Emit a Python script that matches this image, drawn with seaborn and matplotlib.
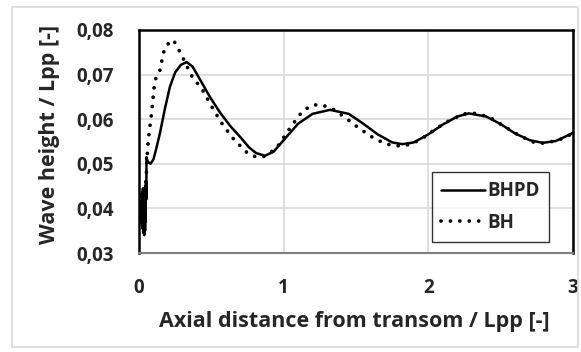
import matplotlib
matplotlib.use("Agg")
import matplotlib.pyplot as plt
import seaborn as sns
import pandas as pd
from matplotlib.patches import Rectangle

# ---- data ----
bhpd_x = [0.015, 0.018, 0.021, 0.024, 0.027, 0.030, 0.033, 0.036, 0.039, 0.042,
          0.044, 0.046, 0.048, 0.050, 0.052, 0.060, 0.080, 0.100, 0.120,
          0.145, 0.180, 0.214, 0.250, 0.290, 0.330, 0.370, 0.420, 0.490, 0.560,
          0.630, 0.700, 0.760, 0.810, 0.870, 0.930, 1.000, 1.100, 1.200, 1.320,
          1.450, 1.550, 1.650, 1.750, 1.820, 1.900, 2.000, 2.100, 2.200, 2.280,
          2.400, 2.500, 2.600, 2.700, 2.790, 2.880, 2.980, 3.000]
bhpd_y = [0.0400, 0.0370, 0.0435, 0.0355, 0.0445, 0.0345, 0.0440, 0.0340, 0.0445, 0.0350,
          0.0450, 0.0370, 0.0460, 0.0420, 0.0515, 0.0505, 0.0500, 0.0510, 0.0535,
          0.0569, 0.0625, 0.0673, 0.0705, 0.0722, 0.0728, 0.0718, 0.0690, 0.0650, 0.0615,
          0.0585, 0.0560, 0.0537, 0.0524, 0.0518, 0.0527, 0.0553, 0.0590, 0.0612, 0.0621,
          0.0612, 0.0590, 0.0566, 0.0548, 0.0544, 0.0548, 0.0566, 0.0588, 0.0606, 0.0613,
          0.0606, 0.0589, 0.0568, 0.0553, 0.0547, 0.0551, 0.0566, 0.0570]

bh_x = [0.000, 0.005, 0.010, 0.015, 0.020, 0.025, 0.030, 0.035, 0.040, 0.045,
        0.050, 0.055, 0.064, 0.087, 0.106, 0.120, 0.145, 0.168, 0.190, 0.237,
        0.270, 0.300, 0.360, 0.440, 0.510, 0.580, 0.660, 0.750, 0.810, 0.870,
        0.950, 1.050, 1.130, 1.200, 1.260, 1.330, 1.420, 1.500, 1.600, 1.700,
        1.780, 1.870, 1.950, 2.050, 2.150, 2.250, 2.320, 2.420, 2.520, 2.620,
        2.720, 2.800, 2.900, 3.000]
bh_y = [0.0395, 0.0420, 0.0375, 0.0440, 0.0365, 0.0430, 0.0380, 0.0440, 0.0400, 0.0450,
        0.0470, 0.0510, 0.0553, 0.0614, 0.0677, 0.0697, 0.0710, 0.0748, 0.0766, 0.0778,
        0.0759, 0.0740, 0.0699, 0.0665, 0.0624, 0.0587, 0.0553, 0.0524, 0.0515, 0.0517,
        0.0535, 0.0583, 0.0618, 0.0632, 0.0632, 0.0625, 0.0605, 0.0585, 0.0562, 0.0545,
        0.0540, 0.0543, 0.0555, 0.0578, 0.0598, 0.0612, 0.0613, 0.0605, 0.0585, 0.0565,
        0.0549, 0.0546, 0.0553, 0.0568]

series_names = ["BHPD", "BH"]
x_ticks = [0, 1, 2, 3]
x_tick_labels = ["0", "1", "2", "3"]
y_ticks = [0.03, 0.04, 0.05, 0.06, 0.07, 0.08]
y_tick_labels = ["0,03", "0,04", "0,05", "0,06", "0,07", "0,08"]
x_label = "Axial distance from transom / Lpp [-]"
y_label = "Wave height / Lpp [-]"

df_bhpd = pd.DataFrame({"x": bhpd_x, "y": bhpd_y})
df_bh = pd.DataFrame({"x": bh_x, "y": bh_y})

sns.set_theme(style="white")
plt.rcParams["font.family"] = ["Open Sans", "DejaVu Sans"]

W, H = 581, 352
fig = plt.figure(figsize=(W / 100, H / 100), dpi=100)
ax = fig.add_axes([139 / W, 1 - 253 / H, (573 - 139) / W, (253 - 30) / H])

# outer chart frame
fig.patches.append(Rectangle((12 / W, 1 - 347 / H), (578 - 12) / W, (347 - 7) / H,
                             transform=fig.transFigure, fill=False,
                             edgecolor="#d9d9d9", linewidth=1.2))

sns.lineplot(data=df_bhpd, x="x", y="y", ax=ax, sort=False, estimator=None,
             color="black", linewidth=1.8, label=series_names[0])
sns.lineplot(data=df_bh, x="x", y="y", ax=ax, sort=False, estimator=None,
             color="black", linewidth=2.7, label=series_names[1],
             linestyle=(0, (0.01, 2.5)), dash_capstyle="round")

ax.set_xlim(0, 3)
ax.set_ylim(0.03, 0.08)
ax.set_xticks(x_ticks)
ax.set_xticklabels(x_tick_labels)
ax.set_yticks(y_ticks)
ax.set_yticklabels(y_tick_labels)
ax.tick_params(axis="both", length=0, labelsize=13.5)
ax.tick_params(axis="x", pad=18)
ax.tick_params(axis="y", pad=18)
for lab in ax.get_xticklabels() + ax.get_yticklabels():
    lab.set_fontweight("bold")

ax.grid(True, color="#d9d9d9", linewidth=1.2)
ax.set_axisbelow(True)
for side in ["top", "right", "left"]:
    ax.spines[side].set_color("black")
    ax.spines[side].set_linewidth(1.8)
ax.spines["bottom"].set_color("#7f7f7f")
ax.spines["bottom"].set_linewidth(1.5)

ax.set_xlabel(x_label, fontsize=15.5, fontweight="bold")
ax.set_ylabel(y_label, fontsize=15.5, fontweight="bold")
ax.xaxis.set_label_coords(0.495, -0.262)
ax.yaxis.set_label_coords(-0.182, 0.53)

leg = ax.legend(loc="upper left", bbox_to_anchor=((432 - 139) / 434, (253 - 172) / 223),
                frameon=True, fancybox=False, fontsize=13.5, handlelength=2.3,
                handletextpad=0.15, borderpad=0.5, labelspacing=0.6,
                borderaxespad=0)
leg.get_frame().set_edgecolor("black")
leg.get_frame().set_linewidth(1.0)
for t in leg.get_texts():
    t.set_fontweight("bold")

fig.savefig("out.png", dpi=100)
